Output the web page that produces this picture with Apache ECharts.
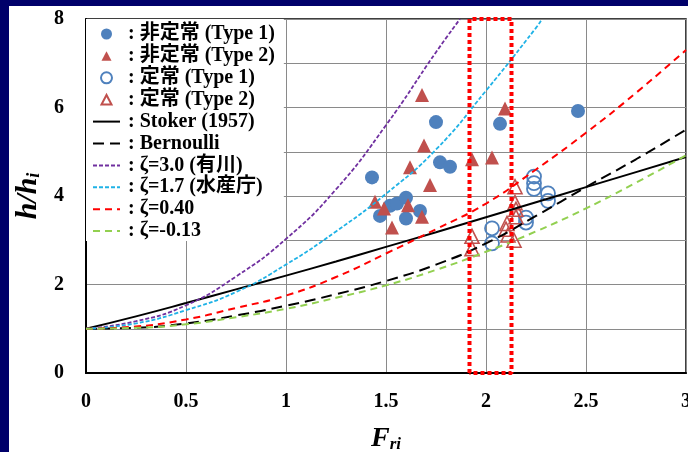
<!DOCTYPE html>
<html><head><meta charset="utf-8">
<script src="https://cdn.jsdelivr.net/npm/echarts@6/dist/echarts.min.js"></script>
<style>html,body{margin:0;padding:0;background:#00006a;}#c{width:688px;height:452px;}</style>
</head><body><div id="c"></div>
<script>
// ---- data ----
const xTickLabels = ['0', '0.5', '1', '1.5', '2', '2.5', '3'];
const yTickLabels = ['0', '', '2', '', '4', '', '6', '', '8'];

const unsteadyT1 = [[1.43,4.42],[1.47,3.55],[1.52,3.78],[1.555,3.83],[1.60,3.96],[1.60,3.49],[1.67,3.66],[1.75,5.67],[1.77,4.76],[1.82,4.66],[2.07,5.63],[2.46,5.92]];
const unsteadyT2 = [[1.445,3.87],[1.49,3.72],[1.53,3.29],[1.61,3.79],[1.62,4.65],[1.68,6.28],[1.69,5.14],[1.68,3.53],[1.72,4.25],[1.93,4.83],[2.03,4.87],[2.095,5.98]];
const steadyT1 = [[2.03,3.27],[2.03,2.93],[2.20,3.51],[2.20,3.40],[2.24,4.44],[2.24,4.29],[2.24,4.16],[2.31,4.06],[2.31,3.89]];
const steadyT2 = [[1.93,3.09],[1.93,2.81],[2.10,3.25],[2.105,3.38],[2.11,3.12],[2.14,3.0],[2.145,4.21],[2.145,3.85],[2.15,3.7],[2.15,3.53]];

const stoker = [[0,1],[0.25,1.28],[0.5,1.58],[0.75,1.89],[1,2.2],[1.25,2.52],[1.5,2.85],[1.75,3.18],[2,3.52],[2.25,3.86],[2.5,4.2],[2.75,4.54],[3,4.88]];
const bernoulli = [[0,1],[0.25,1.02],[0.5,1.12],[0.75,1.3],[1,1.52],[1.25,1.78],[1.5,2.08],[1.75,2.45],[2,2.93],[2.25,3.55],[2.5,4.2],[2.75,4.83],[3,5.5]];
const zeta30 = [[0,1],[0.25,1.17],[0.5,1.53],[0.75,2.18],[1,3.03],[1.25,4.15],[1.5,5.6],[1.75,7.25],[1.87,8]];
const zeta17 = [[0,1],[0.25,1.12],[0.5,1.42],[0.75,1.83],[1,2.45],[1.25,3.2],[1.5,4.05],[1.75,5.05],[2,6.38],[2.25,7.8],[2.28,8]];
const zeta040 = [[0,1],[0.25,1.05],[0.5,1.21],[0.75,1.47],[1,1.75],[1.25,2.17],[1.5,2.7],[1.75,3.25],[2,3.83],[2.25,4.6],[2.5,5.43],[2.75,6.33],[3,7.3]];
const zetaM013 = [[0,1],[0.25,1.02],[0.5,1.1],[0.75,1.26],[1,1.45],[1.25,1.7],[1.5,1.98],[1.75,2.33],[2,2.74],[2.25,3.2],[2.5,3.72],[2.75,4.3],[3,4.92]];

const boxX = [1.9175, 2.1275];
const boxY = [0, 8];

const names = [': 非定常 (Type 1)', ': 非定常 (Type 2)', ': 定常 (Type 1)', ': 定常 (Type 2)',
  ': Stoker (1957)', ': Bernoulli', ': ζ=3.0 (有川)', ': ζ=1.7 (水産庁)', ': ζ=0.40', ': ζ=-0.13'];

// ---- chart ----
const SERIF = "'Liberation Serif','Times New Roman','Noto Sans CJK JP',serif";
const BLUE = '#4F81BD', RED = '#C0504D';
const chart = echarts.init(document.getElementById('c'), null, {renderer: 'canvas'});

function lineSeries(name, data, color, width, type) {
  return {name, type: 'line', data, smooth: true, symbol: 'none', showSymbol: false,
    lineStyle: {color, width, type}, itemStyle: {color}, z: 3, silent: true};
}
const boxData = [[boxX[0], boxY[0]], [boxX[0], boxY[1]], [boxX[1], boxY[1]], [boxX[1], boxY[0]], [boxX[0], boxY[0]]];

const subRich = {
  i: {fontSize: 30, fontFamily: SERIF, fontWeight: 'bold', fontStyle: 'italic', color: '#000', lineHeight: 30},
  s: {fontSize: 18, fontFamily: SERIF, fontWeight: 'bold', fontStyle: 'italic', color: '#000', lineHeight: 15, verticalAlign: 'bottom'}
};
const xRich = {
  i: {fontSize: 28, fontFamily: SERIF, fontWeight: 'bold', fontStyle: 'italic', color: '#000', lineHeight: 28},
  s: {fontSize: 17, fontFamily: SERIF, fontWeight: 'bold', fontStyle: 'italic', color: '#000', lineHeight: 14, verticalAlign: 'bottom'}
};

// triangle legend icon padded to the 27x11 icon box so it is not stretched
const TRI_ICON = 'path://M0,11M27,11M8.5,11L13.5,1.5L18.5,11Z';
const legendData = names.map((n, i) => {
  if (i === 1 || i === 3) return {name: n, icon: TRI_ICON};
  if (i < 4) return {name: n};
  return {name: n, itemStyle: {opacity: 0}};
});

chart.setOption({
  backgroundColor: '#00006a',
  animation: false,
  graphic: [{type: 'rect', shape: {x: 9, y: 6, width: 679, height: 446}, style: {fill: '#ffffff'}, z: -100, silent: true}],
  grid: {left: 86, right: 2, top: 19, bottom: 79, show: true, borderColor: '#000', borderWidth: 1.5,
    containLabel: false, outerBoundsMode: 'none'},
  legend: {
    orient: 'vertical', left: 86, top: 19, padding: [5, 9, 0, 6],
    backgroundColor: '#ffffff', itemWidth: 27, itemHeight: 11, itemGap: 1.9,
    textStyle: {fontFamily: SERIF, fontWeight: 'bold', fontSize: 20, color: '#000', padding: [0, 0, 0, 3]},
    data: legendData, selectedMode: false
  },
  xAxis: {
    type: 'value', min: 0, max: 3, interval: 0.5,
    axisLine: {show: true, lineStyle: {color: '#000', width: 2}},
    axisTick: {show: false},
    splitLine: {show: true, lineStyle: {color: '#8a8a8a', width: 1}},
    axisLabel: {color: '#000', fontFamily: SERIF, fontWeight: 'bold', fontSize: 20, margin: 19,
      formatter: (v, i) => xTickLabels[i]},
    name: '{i|F}{s|ri}', nameLocation: 'middle', nameGap: 52,
    nameTextStyle: {rich: xRich}
  },
  yAxis: {
    type: 'value', min: 0, max: 8, interval: 1,
    axisLine: {show: true, lineStyle: {color: '#000', width: 2}},
    axisTick: {show: false},
    splitLine: {show: true, lineStyle: {color: '#8a8a8a', width: 1}},
    axisLabel: {color: '#000', fontFamily: SERIF, fontWeight: 'bold', fontSize: 20, margin: 22,
      formatter: (v, i) => yTickLabels[i]},
    name: '{i|h/h}{s|i}', nameLocation: 'middle', nameGap: 43,
    nameTextStyle: {rich: subRich}
  },
  series: [
    {name: names[0], type: 'scatter', data: unsteadyT1, symbol: 'circle', symbolSize: 14,
      itemStyle: {color: BLUE, opacity: 1}, z: 2},
    {name: names[1], type: 'scatter', data: unsteadyT2, symbol: 'triangle', symbolSize: 14,
      itemStyle: {color: RED, opacity: 1}, z: 2},
    {name: names[2], type: 'scatter', data: steadyT1, symbol: 'circle', symbolSize: 14,
      itemStyle: {color: 'rgba(255,255,255,0)', borderColor: BLUE, borderWidth: 1.8, opacity: 1}, z: 2},
    {name: names[3], type: 'scatter', data: steadyT2, symbol: 'triangle', symbolSize: 14,
      itemStyle: {color: 'rgba(255,255,255,0)', borderColor: RED, borderWidth: 1.6, opacity: 1}, z: 2},
    lineSeries(names[4], stoker, '#000000', 2, 'solid'),
    lineSeries(names[5], bernoulli, '#000000', 2, [11, 6]),
    lineSeries(names[6], zeta30, '#7030A0', 1.8, [4, 2]),
    lineSeries(names[7], zeta17, '#1FB2E6', 1.8, [4, 2]),
    lineSeries(names[8], zeta040, '#FF0000', 2, [7, 5]),
    lineSeries(names[9], zetaM013, '#92D050', 2, [7, 5]),
    {name: 'box', type: 'line', data: boxData, symbol: 'none', clip: false, silent: true,
      lineStyle: {color: '#FF0000', width: 4, type: [4, 3]}, z: 5}
  ]
});
</script></body></html>
